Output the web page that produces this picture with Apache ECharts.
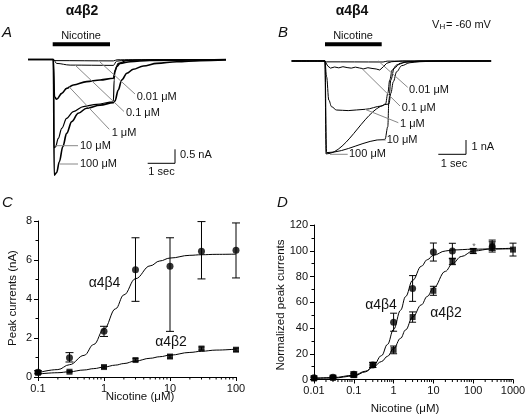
<!DOCTYPE html>
<html><head><meta charset="utf-8">
<script src="https://cdn.jsdelivr.net/npm/echarts@6/dist/echarts.min.js"></script>
<style>html,body{margin:0;padding:0;background:#fff}#c{width:529px;height:416px}</style>
</head><body><div id="c"></div>
<script>
// ---------- Panel A traces (alpha4beta2): [time s, current nA] ----------
const traceA_100 = [[0,0],[0.94,0],[0.97,-4.13],[1.06,-4.04],[1.16,-3.65],[1.29,-3.11],[1.43,-2.64],[1.62,-2.22],[1.86,-1.92],[2.17,-1.74],[2.67,-1.63],[3.16,-1.54],[3.22,-1.48],[3.34,-1.09],[3.47,-0.73],[3.66,-0.49],[3.90,-0.35],[4.27,-0.23],[4.77,-0.14],[5.51,-0.08],[6.37,-0.04],[7.33,-0.02]];
const traceA_10 = [[0,0],[0.94,0],[0.96,-3.15],[1.02,-3.12],[1.12,-2.82],[1.25,-2.46],[1.43,-2.10],[1.68,-1.86],[2.05,-1.68],[2.54,-1.60],[3.16,-1.51],[3.19,-0.73],[3.22,-0.38],[3.34,-0.14],[3.66,-0.04],[4.52,-0.01],[7.33,0]];
const traceA_1 = [[0,0],[0.94,0],[0.98,-1.33],[1.06,-1.42],[1.25,-1.21],[1.43,-1.03],[1.68,-0.91],[2.17,-0.79],[2.67,-0.73],[3.16,-0.67],[3.22,-0.43],[3.28,-0.26],[3.41,-0.14],[3.78,-0.08],[4.5,-0.03],[7.33,0]];
const traceA_01 = [[0,0],[0.94,0],[1.06,-0.14],[1.56,-0.2],[3.16,-0.21],[3.28,-0.06],[3.66,-0.02],[7.33,0]];
const traceA_001 = [[0,0],[0.94,0],[1.0,-0.04],[3.16,-0.05],[3.3,-0.01],[7.33,0]];
// ---------- Panel B traces (alpha4beta4) ----------
const traceB_100 = [[0,0],[1.20,0],[1.24,-6.5],[3.51,-3.01],[3.58,-2.26],[3.67,-1.45],[3.79,-0.75],[3.97,-0.33],[4.27,-0.12],[4.63,-0.05],[5.35,0],[7.2,0]];
const traceB_10 = [[0,0],[1.20,0],[1.26,-6.41],[3.37,-5.48],[3.47,-4.59],[3.51,-2.73],[3.58,-1.33],[3.70,-0.51],[3.91,-0.16],[4.21,-0.05],[5,0],[7.2,0]];
const traceB_1 = [[0,0],[1.2,0],[1.26,-1.1],[1.34,-2.73],[1.44,-3.2],[1.62,-3.43],[2.04,-3.47],[2.65,-3.38],[3.25,-3.15],[3.39,-3.0],[3.47,-2.26],[3.54,-1.33],[3.63,-0.63],[3.79,-0.28],[4.09,-0.09],[4.6,0],[7.2,0]];
const traceB_01 = [[0,0],[1.2,0],[1.3,-0.35],[1.4,-0.5],[1.55,-0.42],[1.7,-0.48],[1.85,-0.4],[2.0,-0.46],[2.15,-0.5],[2.3,-0.43],[2.45,-0.49],[2.6,-0.55],[2.75,-0.47],[2.9,-0.52],[3.05,-0.56],[3.18,-0.63],[3.31,-0.4],[3.43,-0.16],[3.61,-0.05],[4,0],[7.2,0]];
const traceB_001 = [[0,0],[1.2,0],[1.25,-0.06],[3.3,-0.07],[3.45,-0.01],[7.2,0]];

// ---------- Panel C: peak currents (nA) ----------
const concC = [0.1,0.3,1,3,10,30,100];
const b4C = [0.24,0.99,2.34,5.5,5.68,6.45,6.5];
const b4C_lo = [0.16,0.77,2.08,3.88,2.34,5.03,5.08];
const b4C_hi = [0.32,1.25,2.6,7.14,7.14,7.97,7.9];
const b2C = [0.22,0.27,0.51,0.87,1.05,1.46,1.40];
const b2C_err = [0.04,0.05,0.06,0.07,0.08,0.08,0.08];
const fitC_x = [0.1,0.2,0.3,0.5,0.7,1,1.5,2,3,5,7,10,20,30,50,100];
const fitC_b4 = [0.22,0.38,0.63,1.11,1.67,2.46,3.5,4.21,5.04,5.7,5.95,6.1,6.24,6.27,6.29,6.3];
const fitC_b2 = [0.15,0.22,0.27,0.36,0.43,0.51,0.61,0.69,0.82,0.96,1.04,1.12,1.26,1.32,1.38,1.43];

// ---------- Panel D: normalized peak currents ----------
const concD4 = [0.01,0.03,0.1,0.3,1,3,10,30,300];
const b4D = [1.3,1.8,4,11.3,44.5,70.7,99,99.8,103];
const b4D_err = [1.5,1.5,2,2,7,10,7,6,4];
const concD2 = [0.01,0.03,0.1,0.3,1,3,10,30,100,300,1000];
const b2D = [0.8,1.3,3.4,11.3,23,48.5,68.9,91.7,99.8,104.3,100.9];
const b2D_err = [1,1,1.5,2,3,4,3.5,2.5,2,4,5];
const fitD4_x = [0.01,0.03,0.1,0.2,0.3,0.5,0.7,1,1.5,2,3,5,7,10,20,30,100,300,1000];
const fitD4_y = [0.9,1.1,2.7,6,10,18.6,27.2,38.9,53.8,64.4,77,88,93,96.5,99.8,100.6,101.2,101.4,101.5];
const fitD2_x = [0.01,0.03,0.1,0.2,0.3,0.5,0.7,1,1.5,2,3,5,7,10,20,30,50,100,300,1000];
const fitD2_y = [1.0,1.5,3.3,6.5,9.5,14,18,24,32,38.5,48.5,58,64.5,71,84,90,95.5,99.8,101.5,102];

// tick values
const minorC = [0.2,0.3,0.4,0.5,0.6,0.7,0.8,0.9,2,3,4,5,6,7,8,9,20,30,40,50,60,70,80,90];
const minorD = [0.02,0.03,0.04,0.05,0.06,0.07,0.08,0.09,0.2,0.3,0.4,0.5,0.6,0.7,0.8,0.9,2,3,4,5,6,7,8,9,20,30,40,50,60,70,80,90,200,300,400,500,600,700,800,900];

const FONT = '"Liberation Sans", Arial, Helvetica, sans-serif';
const zip = (xs, ys) => xs.map((x,i)=>[x,ys[i]]);

function traceSeries(data, xi, w, smooth) {
  return {type:'line', xAxisIndex:xi, yAxisIndex:xi, data, showSymbol:false, symbol:'none',
    smooth: smooth === false ? false : 0.35, smoothMonotone:'x', animation:false,
    lineStyle:{color:'#000', width:w}, z:3};
}
function errSeries(data, ai, cap) {
  return {type:'custom', xAxisIndex:ai, yAxisIndex:ai, data, z:4, animation:false,
    renderItem(params, api) {
      const x = api.value(0), lo = api.coord([x, api.value(1)]), hi = api.coord([x, api.value(2)]);
      const st = {stroke:'#000', lineWidth:1};
      return {type:'group', children:[
        {type:'line', shape:{x1:hi[0],y1:hi[1],x2:lo[0],y2:lo[1]}, style:st},
        {type:'line', shape:{x1:hi[0]-cap,y1:hi[1],x2:hi[0]+cap,y2:hi[1]}, style:st},
        {type:'line', shape:{x1:lo[0]-cap,y1:lo[1],x2:lo[0]+cap,y2:lo[1]}, style:st}]};
    }};
}
function minorTickSeries(vals, ai) {
  return {type:'custom', xAxisIndex:ai, yAxisIndex:ai, data: vals.map(v=>[v,0]), z:5, animation:false, silent:true,
    renderItem(params, api) {
      const p = api.coord([api.value(0), 0]);
      return {type:'line', shape:{x1:p[0],y1:p[1],x2:p[0],y2:p[1]+2.5}, style:{stroke:'#000', lineWidth:1}};
    }};
}
function scatterSeries(data, ai, symbol, size) {
  return {type:'scatter', xAxisIndex:ai, yAxisIndex:ai, data, symbol, symbolSize:size, z:6, animation:false,
    itemStyle:{color:'#000'}};
}
function fitSeries(data, ai) {
  return {type:'line', xAxisIndex:ai, yAxisIndex:ai, data, showSymbol:false, symbol:'none', smooth:0.4,
    smoothMonotone:'x', lineStyle:{color:'#000', width:1}, z:3, animation:false};
}

const axisLbl = {fontSize:11, color:'#111', fontFamily:FONT};
const lineBlack = {show:true, onZero:false, lineStyle:{color:'#000', width:1}};
const fmt = v => String(+Number(v).toPrecision(6));

function T(text, x, y, o) {
  o = o || {};
  return {type:'text', x, y, rotation:o.rot||0, z:10,
    style:{text, fill:o.fill||'#111', font:(o.style||'normal')+' '+(o.weight||'normal')+' '+(o.size||11)+'px '+FONT,
      textAlign:o.align||'left', textVerticalAlign:'middle'}};
}
function L(x1,y1,x2,y2,c) {
  return {type:'line', z:9, shape:{x1,y1,x2,y2}, style:{stroke:c||'#000', lineWidth:1}};
}
const GR = '#888';

const graphic = [
  T('α4β2', 82, 11, {size:14, weight:'bold', align:'center'}),
  T('α4β4', 352, 11, {size:14, weight:'bold', align:'center'}),
  T('A', 2, 33, {size:15, style:'italic'}),
  T('B', 278, 33, {size:15, style:'italic'}),
  T('C', 2, 203, {size:15, style:'italic'}),
  T('D', 277, 203, {size:15, style:'italic'}),
  T('Nicotine', 81, 36, {align:'center'}),
  T('Nicotine', 353, 36, {align:'center'}),
  {type:'rect', z:9, shape:{x:52.7, y:42.3, width:57.3, height:4}, style:{fill:'#000'}},
  {type:'rect', z:9, shape:{x:325, y:42.3, width:56.7, height:4}, style:{fill:'#000'}},
  T('V', 432, 25, {size:11}),
  T('H', 439.5, 26.5, {size:8}),
  T('= -60 mV', 446, 25, {size:11}),
  // scale bars A
  L(147.7,163.3,175,163.3), L(175,149.3,175,163.3),
  T('0.5 nA', 180, 155), T('1 sec', 161.5, 172, {align:'center'}),
  // scale bars B
  L(438.3,154.3,466,154.3), L(466,140,466,154.3),
  T('1 nA', 471.5, 147), T('1 sec', 454, 164, {align:'center'}),
  // labels A
  L(100,62,135,94,GR), T('0.01 μM', 136.7, 96.7),
  L(75,65,124,111.5,GR), T('0.1 μM', 126, 113.3),
  L(68.3,86,109.3,129.3,GR), T('1 μM', 111.7, 132.7),
  L(55,145.7,78,145.7,GR), T('10 μM', 80, 145.7),
  L(60,164,78,164,GR), T('100 μM', 80, 164),
  // labels B
  L(378.3,61,407.7,87.3,GR), T('0.01 μM', 409, 90),
  L(361.7,68.3,400,106,GR), T('0.1 μM', 401.7, 107.7),
  L(365,109.3,398.3,122.7,GR), T('1 μM', 400, 124),
  L(376.7,140,385.7,140,GR), T('10 μM', 386.7, 140),
  L(330,154.3,347.7,154.3,GR), T('100 μM', 349, 154.3),
  // panel C annotations
  T('Peak currents (nA)', 13, 298, {align:'center', rot:Math.PI/2, size:11.5}),
  T('Nicotine (μM)', 140, 397, {align:'center', size:11.5}),
  T('α4β4', 104.5, 283.5, {align:'center', size:14}),
  T('α4β2', 171, 342, {align:'center', size:14}),
  // panel D annotations
  T('Normalized peak currents', 281, 305, {align:'center', rot:Math.PI/2, size:11.5}),
  T('Nicotine (μM)', 405, 409, {align:'center', size:11.5}),
  T('α4β4', 381, 305, {align:'center', size:14}),
  T('α4β2', 446, 313.5, {align:'center', size:14}),
  T('*', 474, 247, {align:'center', size:9, fill:'#666'})
];

const option = {
  backgroundColor:'#fff',
  animation:false,
  grid:[
    {left:28, top:53.9, width:198, height:128.8},
    {left:291.7, top:56.7, width:199.4, height:101.5},
    {left:38, top:221, width:198, height:156},
    {left:314, top:225, width:199, height:154.5}
  ],
  xAxis:[
    {gridIndex:0, type:'value', min:0, max:7.33, show:false},
    {gridIndex:1, type:'value', min:0, max:7.2, show:false},
    {gridIndex:2, type:'log', logBase:10, min:0.1, max:100, axisLine:lineBlack,
      axisTick:{show:true, length:4, lineStyle:{color:'#000'}}, splitLine:{show:false},
      axisLabel:Object.assign({margin:6, formatter:fmt}, axisLbl)},
    {gridIndex:3, type:'log', logBase:10, min:0.01, max:1000, axisLine:lineBlack,
      axisTick:{show:true, length:4, lineStyle:{color:'#000'}}, splitLine:{show:false},
      axisLabel:Object.assign({margin:6, formatter:fmt}, axisLbl)}
  ],
  yAxis:[
    {gridIndex:0, type:'value', min:-4.4, max:0.2, show:false},
    {gridIndex:1, type:'value', min:-6.8, max:0.3, show:false},
    {gridIndex:2, type:'value', min:0, max:8, interval:2, axisLine:lineBlack,
      axisTick:{show:true, length:4, lineStyle:{color:'#000'}},
      minorTick:{show:true, splitNumber:2, length:2.5, lineStyle:{color:'#000'}},
      splitLine:{show:false}, axisLabel:Object.assign({margin:6}, axisLbl)},
    {gridIndex:3, type:'value', min:0, max:120, interval:20, axisLine:lineBlack,
      axisTick:{show:true, length:4, lineStyle:{color:'#000'}},
      minorTick:{show:true, splitNumber:2, length:2.5, lineStyle:{color:'#000'}},
      splitLine:{show:false}, axisLabel:Object.assign({margin:6}, axisLbl)}
  ],
  series:[
    traceSeries(traceA_001, 0, 1),
    traceSeries(traceA_01, 0, 1),
    traceSeries(traceA_1, 0, 1.6),
    traceSeries(traceA_10, 0, 1.2),
    traceSeries(traceA_100, 0, 1.6),
    traceSeries(traceB_001, 1, 1),
    traceSeries(traceB_01, 1, 1, false),
    traceSeries(traceB_1, 1, 1),
    traceSeries(traceB_10, 1, 1),
    traceSeries(traceB_100, 1, 1),
    // panel C
    fitSeries(zip(fitC_x, fitC_b4), 2),
    fitSeries(zip(fitC_x, fitC_b2), 2),
    errSeries(concC.map((x,i)=>[x, b4C_lo[i], b4C_hi[i]]), 2, 4),
    errSeries(concC.map((x,i)=>[x, b2C[i]-b2C_err[i], b2C[i]+b2C_err[i]]), 2, 3),
    scatterSeries(zip(concC, b4C), 2, 'circle', 7),
    scatterSeries(zip(concC, b2C), 2, 'rect', 6),
    minorTickSeries(minorC, 2),
    // panel D
    fitSeries(zip(fitD4_x, fitD4_y), 3),
    fitSeries(zip(fitD2_x, fitD2_y), 3),
    errSeries(concD4.map((x,i)=>[x, b4D[i]-b4D_err[i], b4D[i]+b4D_err[i]]), 3, 3.5),
    errSeries(concD2.map((x,i)=>[x, b2D[i]-b2D_err[i], b2D[i]+b2D_err[i]]), 3, 3.5),
    scatterSeries(zip(concD4, b4D), 3, 'circle', 7),
    scatterSeries(zip(concD2, b2D), 3, 'rect', 6),
    minorTickSeries(minorD, 3)
  ],
  graphic
};
const chart = echarts.init(document.getElementById('c'), null, {renderer:'canvas'});
chart.setOption(option);
</script>
</body></html>
